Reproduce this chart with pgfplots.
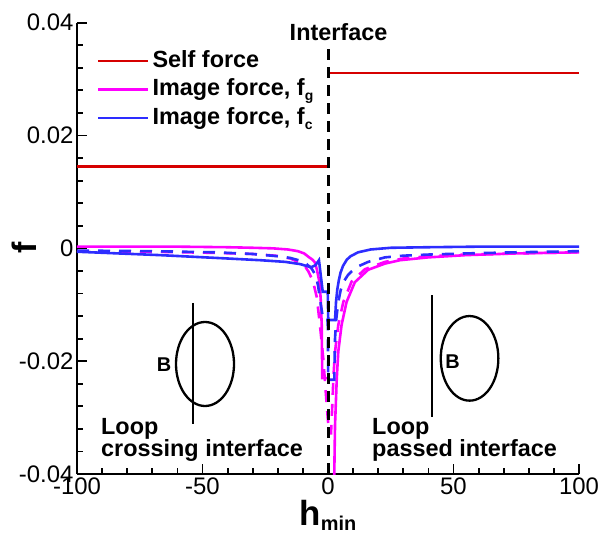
\documentclass[border=0pt]{standalone}
\usepackage{fontspec}
\setmainfont{Liberation Sans}
\usepackage{pgfplots}
\pgfplotsset{compat=1.18}

\definecolor{selfred}{RGB}{214,0,0}
\definecolor{imgmag}{RGB}{255,0,255}
\definecolor{imgblue}{RGB}{45,45,255}

\begin{document}
\begin{tikzpicture}
\begin{axis}[
  name=ax,
  scale only axis,
  width=502bp, height=451.3bp,
  xmin=-100, xmax=100, ymin=-0.04, ymax=0.04,
  axis x line=bottom, axis y line=left,
  axis line style={-, line width=2.8bp},
  xtick={-100,-50,0,50,100},
  ytick={-0.04,-0.02,0,0.02,0.04},
  minor tick num=4,
  tick align=inside,
  major tick length=10bp, minor tick length=6bp,
  tick style={black, line width=1.8bp},
  scaled y ticks=false,
  yticklabel style={/pgf/number format/.cd, fixed, precision=2},
  /pgf/number format/assume math mode=true,
  tick label style={font=\fontsize{24}{28}\selectfont},
  xlabel={\bfseries h\raisebox{-5bp}{\fontsize{20}{24}\selectfont min}},
  xlabel style={at={(axis description cs:0.5,0)}, anchor=base, yshift=-51bp,
    font=\fontsize{35}{40}\selectfont, inner sep=0pt},
  ylabel={\bfseries f},
  ylabel style={at={(axis description cs:-0.0797,0.5)}, anchor=base,
    font=\fontsize{34}{40}\selectfont, inner sep=0pt},
  clip mode=individual,
  unbounded coords=jump,
  legend cell align=left,
  legend image code/.code={\draw[#1, solid] (0bp,0bp) -- (50bp,0bp);},
  legend style={draw=none, fill=none, at={(axis description cs:0.0398,0.9395)},
    anchor=north west, inner sep=0pt, outer sep=0pt, row sep=6.5bp,
    font=\fontsize{23.5}{28}\selectfont\bfseries,
    nodes={text height=17bp, text depth=5bp, inner sep=0pt},
    /tikz/every odd column/.append style={column sep=3bp}},
]

% self force: constant on each side of the interface
\addplot[selfred, line width=2.6bp] coordinates {
  (-100,0.0145) (0,0.0145) (0,nan) (0,0.0311) (100,0.0311)};
\addlegendentry{Self force}

% image force f_g
\addplot[imgmag, line width=2.6bp] coordinates {
  (-100,0.0003) (-80,0.0003) (-60,0.0003) (-40,0.0002) (-30,0.0001)
  (-22,0.0) (-16,-0.0002) (-12,-0.0005) (-9.5,-0.0009) (-7.8,-0.0015)
  (-6.2,-0.0020) (-5.2,-0.0025) (-4.4,-0.0038) (-3.4,-0.0060)
  (-2.9,-0.0090) (-2.5,-0.0136) (-2.3,-0.0230) (0,-0.0230)
  (1,nan)
  (2.2,-0.046) (2.5,-0.0400) (2.8,-0.0313) (3.5,-0.0230) (4.1,-0.0183)
  (5.4,-0.0136) (7.4,-0.0095) (10.7,-0.0060) (16,-0.0038) (22.7,-0.0027)
  (28.7,-0.0021) (40,-0.0016) (55,-0.0012) (75,-0.0009) (100,-0.0007)};
\addlegendentry{Image force, f\raisebox{-5bp}{\fontsize{14}{14}\selectfont g}}

\addplot[imgmag, line width=2.6bp, dash pattern=on 12bp off 9bp, forget plot] coordinates {
  (-100,-0.0005) (-70,-0.0006) (-45,-0.0008) (-30,-0.0010) (-21,-0.0013)
  (-15,-0.0018) (-11.5,-0.0025) (-9,-0.0033) (-7.8,-0.0041) (-6,-0.0058)
  (-4.5,-0.0086) (-3.2,-0.0136) (-1.9,-0.0195) (-0.5,-0.0278)
  (0.4,-0.0328) (1.2,-0.0328) (1.6,-0.0290) (2.2,-0.0225) (2.8,-0.0183)
  (4.1,-0.0136) (6.1,-0.0095) (9.4,-0.0059) (14.7,-0.0037) (22.7,-0.0024)
  (30,-0.0018) (40,-0.0014) (55,-0.0011) (75,-0.0009) (100,-0.0007)};

% image force f_c
\addplot[imgblue, line width=2.6bp] coordinates {
  (-100,-0.0006) (-67,-0.0012) (-40,-0.0018) (-27,-0.0021) (-17,-0.0024)
  (-11,-0.0028) (-8,-0.0032) (-6.5,-0.0033) (-5,-0.0030) (-3.6,-0.0021)
  (-2.1,-0.0077) (-0.1,-0.0077) (0.1,-0.0127) (2.8,-0.0127)
  (3.2,-0.0095) (3.7,-0.0073) (4.3,-0.0057) (5,-0.0043) (6,-0.0031)
  (7.5,-0.0020) (9,-0.0014) (12,-0.0007) (17,-0.0002) (25,0.0001)
  (40,0.0002) (60,0.0003) (100,0.0003)};
\addlegendentry{Image force, f\raisebox{-5bp}{\fontsize{14}{14}\selectfont c}}

\addplot[imgblue, line width=2.6bp, dash pattern=on 12bp off 9bp, forget plot] coordinates {
  (-100,-0.0004) (-70,-0.0005) (-45,-0.0007) (-30,-0.0010) (-20,-0.0014)
  (-15,-0.0017) (-11,-0.0022) (-8.5,-0.0028) (-6.5,-0.0036) (-5,-0.0047)
  (-4,-0.0065) (-3.2,-0.0090) (-1.9,-0.0127) (-0.1,-0.0127)
  (0.1,-0.0233) (2.5,-0.0233) (2.8,-0.0160) (3.3,-0.0125) (4.1,-0.0095)
  (5,-0.0075) (6.1,-0.0060) (8,-0.0047) (9.4,-0.0041) (12,-0.0032)
  (16,-0.0024) (22.7,-0.0016) (30,-0.0013) (40,-0.0011) (55,-0.0009)
  (75,-0.0007) (100,-0.0005)};

% interface position
\addplot[black, line width=3bp, dash pattern=on 11bp off 7bp, forget plot]
  coordinates {(0,-0.04) (0,0.0357)};

\node[anchor=base, inner sep=0pt, font=\fontsize{23.5}{28}\selectfont\bfseries]
  at (axis cs:4.2,0.0369) {Interface};

% loop sketches
\draw[line width=2.3bp] (axis cs:-49,-0.0205) ellipse [x radius=29bp, y radius=42bp];
\draw[line width=2.4bp] (axis cs:-53.7,-0.00965) -- (axis cs:-53.7,-0.03115);
\node[font=\fontsize{20}{22}\selectfont\bfseries, inner sep=0pt]
  at (axis cs:-65.3,-0.0207) {B};

\draw[line width=2.3bp] (axis cs:56.4,-0.0195) ellipse [x radius=28.8bp, y radius=42.3bp];
\draw[line width=2.4bp] (axis cs:41.55,-0.00828) -- (axis cs:41.55,-0.02986);
\node[font=\fontsize{20}{22}\selectfont\bfseries, inner sep=0pt]
  at (axis cs:49.6,-0.0200) {B};

\node[anchor=base west, inner sep=0pt, font=\fontsize{23.5}{28}\selectfont\bfseries]
  at (axis cs:-90.44,-0.03293) {Loop};
\node[anchor=base west, inner sep=0pt, font=\fontsize{23.5}{28}\selectfont\bfseries]
  at (axis cs:-90.44,-0.03683) {crossing interface};
\node[anchor=base west, inner sep=0pt, font=\fontsize{23.5}{28}\selectfont\bfseries]
  at (axis cs:17.53,-0.03293) {Loop};
\node[anchor=base west, inner sep=0pt, font=\fontsize{23.5}{28}\selectfont\bfseries]
  at (axis cs:17.53,-0.03683) {passed interface};
\end{axis}
\pgfresetboundingbox
\path (ax.south west) ++(-77bp,-61bp) rectangle ++(601bp,535bp);
\end{tikzpicture}
\end{document}
